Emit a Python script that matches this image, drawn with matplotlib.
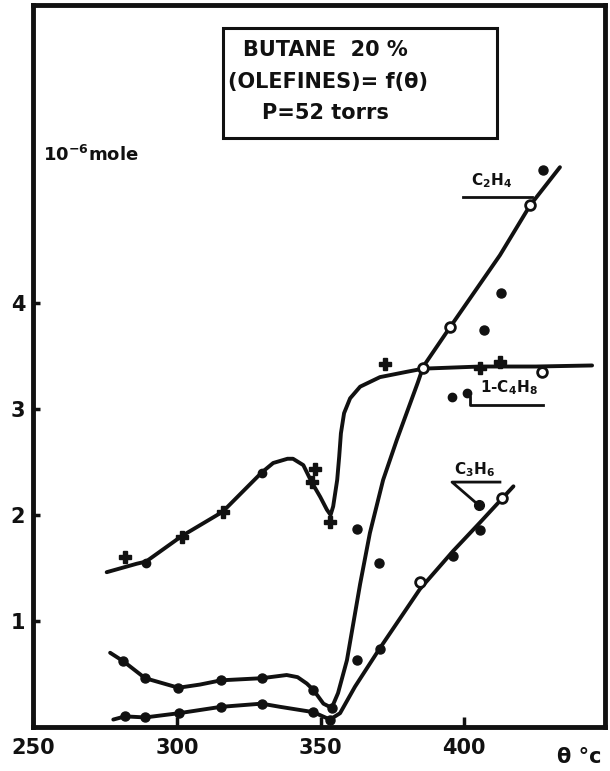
import numpy as np
import matplotlib
matplotlib.use('Agg')
import matplotlib.pyplot as plt

plt.rcParams['font.family'] = ['DejaVu Sans']
plt.rcParams['font.weight'] = 'bold'
plt.rcParams['mathtext.default'] = 'bf'
ink = '#111111'

# traced curves (temperature degC, 10^-6 mole)
c2h4_line_x = [276.7, 281.3, 288.9, 300.5, 308.0, 315.3, 329.5, 338.2, 342.0, 345.2, 347.5, 351.0, 353.9,
               356.1, 359.2, 363.8, 367.2, 371.8, 376.6, 383.9, 385.8, 395.1, 412.5, 423.0, 433.4]
c2h4_line_y = [0.70, 0.62, 0.46, 0.37, 0.40, 0.44, 0.46, 0.49, 0.47, 0.41, 0.35, 0.22, 0.18,
               0.32, 0.63, 1.35, 1.83, 2.33, 2.71, 3.25, 3.40, 3.77, 4.45, 4.92, 5.28]

c3h6_line_x = [277.8, 281.9, 288.9, 300.7, 315.3, 329.5, 335.9, 347.5, 353.3, 356.8, 362.0, 370.6,
               384.6, 396.2, 405.6, 417.2]
c3h6_line_y = [0.07, 0.10, 0.09, 0.13, 0.19, 0.22, 0.19, 0.14, 0.07, 0.13, 0.38, 0.74,
               1.30, 1.66, 1.93, 2.27]

c4h8_line_x = [275.5, 286.0, 289.2, 301.6, 315.9, 329.5, 333.5, 338.5, 340.4, 344.0, 346.9, 349.9, 352.2,
               353.5, 354.4, 355.8, 356.5, 357.1, 358.2, 360.3, 363.8, 370.7, 380.0, 385.8, 405.6, 425.0, 444.6]
c4h8_line_y = [1.46, 1.54, 1.56, 1.80, 2.03, 2.40, 2.49, 2.53, 2.53, 2.47, 2.31, 2.17, 2.05,
               2.00, 2.08, 2.33, 2.55, 2.77, 2.96, 3.10, 3.21, 3.30, 3.35, 3.38, 3.40, 3.40, 3.41]

# measured points
c2h4_pts_x = [281.3, 288.9, 300.5, 315.3, 329.5, 347.5, 353.9, 362.6, 362.7, 370.4, 407.0, 413.0, 427.5]
c2h4_pts_y = [0.62, 0.46, 0.37, 0.44, 0.46, 0.35, 0.18, 0.63, 1.87, 1.55, 3.74, 4.09, 5.25]
c2h4_open_x = [395.1, 423.0]
c2h4_open_y = [3.77, 4.92]

c3h6_pts_x = [281.9, 288.9, 300.7, 315.3, 329.5, 347.5, 353.3, 370.6, 396.2, 405.6]
c3h6_pts_y = [0.10, 0.09, 0.13, 0.19, 0.22, 0.14, 0.07, 0.74, 1.61, 1.86]
c3h6_open_x = [384.6, 413.1]
c3h6_open_y = [1.37, 2.16]

c4h8_plus_x = [281.9, 301.7, 316.0, 347.1, 348.1, 353.3, 372.5, 405.6, 412.6]
c4h8_plus_y = [1.60, 1.79, 2.03, 2.31, 2.43, 1.93, 3.42, 3.39, 3.44]
c4h8_dot_x = [289.2, 329.6, 395.8, 401.0]
c4h8_dot_y = [1.55, 2.40, 3.11, 3.15]
c4h8_open_x = [385.8, 427.0]
c4h8_open_y = [3.39, 3.35]

xticks = [250, 300, 350, 400]
yticks = [1, 2, 3, 4]

fig = plt.figure(figsize=(6.1, 7.71), dpi=100)
ax = fig.add_axes([0.0549, 0.0571, 0.9369, 0.9364])

lw = 2.8
for lx, ly in [(c2h4_line_x, c2h4_line_y), (c3h6_line_x, c3h6_line_y), (c4h8_line_x, c4h8_line_y)]:
    ax.plot(lx, ly, color=ink, lw=lw, solid_capstyle='round', solid_joinstyle='round', zorder=2)

ax.plot(c2h4_pts_x, c2h4_pts_y, 'o', color=ink, ms=6.5, zorder=3)
ax.plot(c3h6_pts_x, c3h6_pts_y, 'o', color=ink, ms=6.5, zorder=3)
ax.plot(c4h8_dot_x, c4h8_dot_y, 'o', color=ink, ms=6, zorder=3)
ax.plot(c4h8_plus_x, c4h8_plus_y, 'P', color=ink, ms=8, zorder=3)
for ox, oy in [(c2h4_open_x, c2h4_open_y), (c3h6_open_x, c3h6_open_y), (c4h8_open_x, c4h8_open_y)]:
    ax.plot(ox, oy, 'o', mfc='white', mec=ink, mew=2, ms=7, zorder=4)

# curve labels with underline and leaders
ax.text(409.4, 5.15, 'C$_2$H$_4$', fontsize=11, ha='center', va='center', color=ink)
ax.plot([399.7, 423.7], [5.0, 5.0], color=ink, lw=2)

ax.text(415.5, 3.2, '1-C$_4$H$_8$', fontsize=11, ha='center', va='center', color=ink)
ax.plot([402.1, 402.1, 427.5], [3.11, 3.04, 3.04], color=ink, lw=2)

ax.text(403.5, 2.43, 'C$_3$H$_6$', fontsize=11, ha='center', va='center', color=ink)
ax.plot([412.5, 395.8, 405.2], [2.31, 2.31, 2.09], color=ink, lw=2)
ax.plot([405.2], [2.09], 'o', color=ink, ms=7)

ax.set_xlim(250, 449.1)
ax.set_ylim(0, 6.81)
ax.set_xticks(xticks)
ax.set_yticks(yticks)
ax.set_xticklabels([str(t) for t in xticks])
ax.set_yticklabels([str(t) for t in yticks])
ax.tick_params(axis='x', direction='in', length=7, width=2.5, pad=8, labelsize=15, colors=ink)
ax.tick_params(axis='y', direction='in', length=5, width=2.5, pad=6, labelsize=15, colors=ink)
for lab in ax.get_xticklabels() + ax.get_yticklabels():
    lab.set_fontweight('bold')
for sp in ax.spines.values():
    sp.set_linewidth(3.5)
    sp.set_color(ink)

ax.text(0.017, 0.792, '10$^{-6}$mole', transform=ax.transAxes, fontsize=13, ha='left', va='center', color=ink)
fig.text(0.913, 0.018, '\u03b8 \u00b0c', fontsize=15, ha='left', va='center', color=ink)

# title box
box = plt.Rectangle((0.366, 0.821), 0.449, 0.143, transform=fig.transFigure, fill=False,
                    lw=2.2, edgecolor=ink)
fig.patches.append(box)
fig.text(0.398, 1 - 50 / 771, 'BUTANE  20 %', fontsize=15, ha='left', va='center', color=ink)
fig.text(0.374, 1 - 82 / 771, '(OLEFINES)= f(\u03b8)', fontsize=15, ha='left', va='center', color=ink)
fig.text(0.430, 1 - 113 / 771, 'P=52 torrs', fontsize=15, ha='left', va='center', color=ink)

fig.savefig('out.png', dpi=100, facecolor='white')
